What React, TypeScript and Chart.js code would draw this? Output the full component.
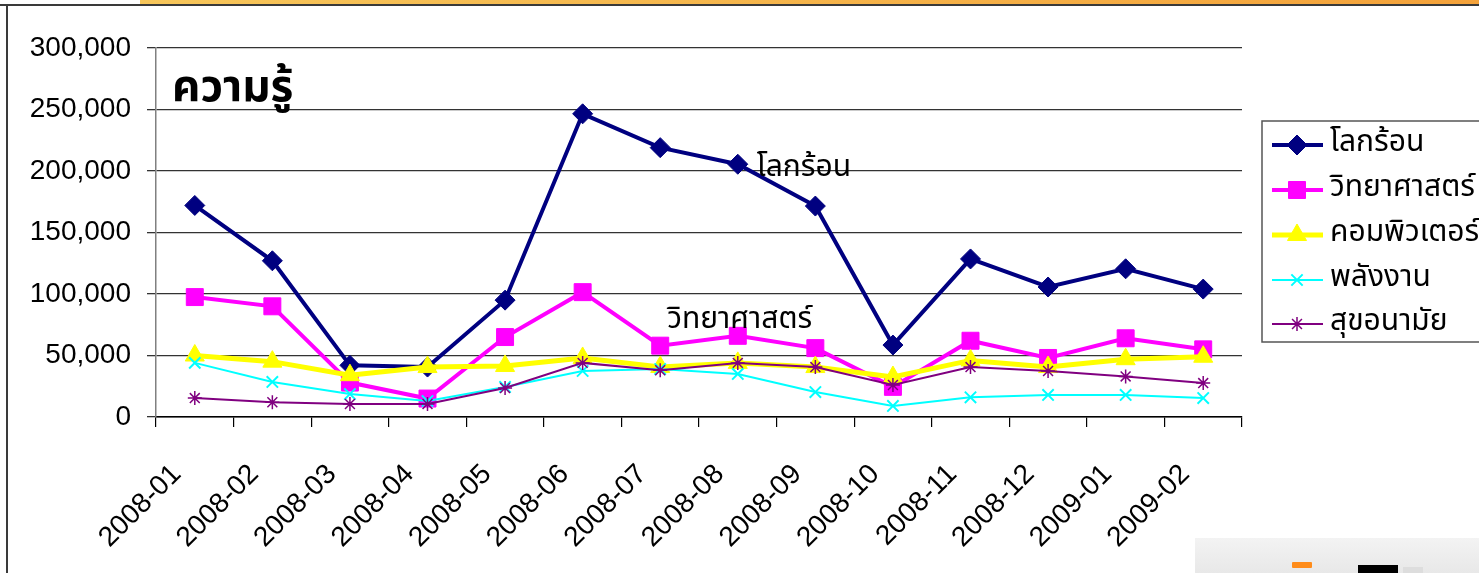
import React, { useEffect, useRef } from "react";
import { Chart, registerables } from "chart.js";
import { drawPoint } from "chart.js/helpers";

Chart.register(...registerables);

// ---------- data ----------
const months = [
  "2008-01", "2008-02", "2008-03", "2008-04", "2008-05", "2008-06", "2008-07",
  "2008-08", "2008-09", "2008-10", "2008-11", "2008-12", "2009-01", "2009-02",
];
const seriesNames = ["โลกร้อน", "วิทยาศาสตร์", "คอมพิวเตอร์", "พลังงาน", "สุขอนามัย"];
const globalWarming = [172000, 127000, 42000, 40600, 95000, 246500, 219000, 205500, 171500, 58500, 128500, 105700, 120500, 104000];
const science = [97500, 90000, 28000, 15000, 65000, 101500, 58000, 66000, 56000, 24500, 62000, 48000, 64000, 55000];
const computer = [50000, 45000, 34000, 40600, 41500, 48000, 40600, 44000, 40600, 32500, 46000, 40600, 47000, 49000];
const energy = [44000, 28500, 18700, 13000, 24400, 37400, 39000, 35000, 20300, 9000, 16000, 17900, 17900, 15400];
const health = [15400, 12000, 10600, 10600, 23600, 44000, 38000, 44000, 40600, 26000, 40600, 37400, 33000, 27600];
const chartTitle = "ความรู้";
const yMin = 0;
const yMax = 300000;
const yStep = 50000;

const NUM_FONT = "'Liberation Sans', Arial, sans-serif";
const THAI_FONT = "'Noto Sans Thai', 'Noto Sans', 'DejaVu Sans', sans-serif";

const overlayPlugin = {
  id: "overlay",
  afterDatasetsDraw(chart: any) {
    const ctx = chart.ctx;
    const xs = chart.scales.x;
    const ys = chart.scales.y;
    const area = chart.chartArea;
    ctx.save();
    ctx.fillStyle = "#000";
    ctx.textBaseline = "alphabetic";
    ctx.textAlign = "left";
    // title
    ctx.font = `bold 44px ${THAI_FONT}`;
    ctx.fillText(chartTitle, area.left + 16, area.top + 53);
    // series labels
    ctx.font = `30px ${THAI_FONT}`;
    ctx.fillText(seriesNames[0], xs.getPixelForValue(7) + 19, ys.getPixelForValue(globalWarming[7]) + 12);
    ctx.fillText(seriesNames[1], xs.getPixelForValue(6) + 7, ys.getPixelForValue(science[6]) - 18);

    // legend box
    const lx = 1262, ly = 121, lw = 260, lh = 221;
    ctx.strokeStyle = "#555";
    ctx.lineWidth = 1.5;
    ctx.strokeRect(lx, ly, lw, lh);
    const rowY = [145, 190, 235, 280, 324];
    chart.data.datasets.forEach((ds: any, i: number) => {
      const y = rowY[i];
      ctx.strokeStyle = ds.borderColor;
      ctx.lineWidth = ds.borderWidth;
      ctx.beginPath();
      ctx.moveTo(lx + 10, y);
      ctx.lineTo(lx + 61, y);
      ctx.stroke();
      ctx.fillStyle = ds.pointBackgroundColor;
      ctx.strokeStyle = ds.pointBorderColor;
      ctx.lineWidth = ds.pointBorderWidth;
      drawPoint(ctx, { pointStyle: ds.pointStyle, radius: ds.pointRadius, rotation: 0, borderWidth: ds.pointBorderWidth }, lx + 35, y);
      ctx.fillStyle = "#000";
      ctx.font = `30px ${THAI_FONT}`;
      ctx.textBaseline = "middle";
      ctx.fillText(ds.label, lx + 68, y);
    });
    ctx.restore();
  },
};

export default function App() {
  const canvasRef = useRef<HTMLCanvasElement | null>(null);

  useEffect(() => {
    const canvas = canvasRef.current;
    if (!canvas) return;
    const mk = (label: string, data: number[], color: string, width: number, style: string, radius: number, order: number, pbw = 1) => ({
      label,
      data,
      borderColor: color,
      backgroundColor: color,
      borderWidth: width,
      pointStyle: style,
      pointRadius: radius,
      pointHoverRadius: radius,
      pointBackgroundColor: color,
      pointBorderColor: color,
      pointBorderWidth: pbw,
      tension: 0,
      order,
    });
    const chart = new Chart(canvas, {
      type: "line",
      data: {
        labels: months,
        datasets: [
          mk(seriesNames[0], globalWarming, "#000080", 4, "rectRot", 10, 5),
          mk(seriesNames[1], science, "#FF00FF", 4, "rect", 12, 4),
          mk(seriesNames[2], computer, "#FFFF00", 5, "triangle", 11, 3),
          mk(seriesNames[3], energy, "#00FFFF", 2, "crossRot", 8, 2, 2),
          mk(seriesNames[4], health, "#800080", 2, "star", 7, 1, 1.5),
        ],
      },
      options: {
        animation: false,
        responsive: true,
        maintainAspectRatio: false,
        layout: { padding: { top: 48, right: 237, left: 0, bottom: 0 } },
        plugins: {
          legend: { display: false },
          tooltip: { enabled: false },
          title: { display: false },
        },
        scales: {
          x: {
            offset: true,
            afterFit: (s: any) => { s.height = 156; },
            grid: { drawOnChartArea: false, drawTicks: true, tickLength: 10, offset: true, color: "#000", lineWidth: 1.2 },
            border: { color: "#000", width: 1.5 },
            ticks: {
              maxRotation: 45,
              minRotation: 45,
              autoSkip: false,
              color: "#000",
              padding: 31,
              labelOffset: -18,
              font: { family: NUM_FONT, size: 28 },
            },
          },
          y: {
            min: yMin,
            max: yMax,
            afterFit: (s: any) => { s.width = 156; },
            grid: { color: "#333", lineWidth: 1.3, tickLength: 9 },
            border: { color: "#808080", width: 1.5 },
            ticks: {
              stepSize: yStep,
              color: "#000",
              padding: 16,
              font: { family: NUM_FONT, size: 28 },
              callback: (v: any) => Number(v).toLocaleString("en-US"),
            },
          },
        },
      },
      plugins: [overlayPlugin],
    } as any);
    return () => chart.destroy();
  }, []);

  return (
    <div style={{ position: "absolute", left: 0, top: 0, width: 1479, height: 573, background: "#fff", overflow: "hidden" }}>
      <div style={{ position: "absolute", left: 140, top: 0, width: 1339, height: 4, background: "linear-gradient(to right, #f7c65a, #f4a23a)" }} />
      <div style={{ position: "absolute", left: 0, top: 4, width: 1479, height: 2, background: "#3a3a3a" }} />
      <div style={{ position: "absolute", left: 6, top: 4, width: 2, height: 569, background: "#3a3a3a" }} />
      <div style={{ position: "absolute", left: 1195, top: 538, width: 284, height: 35, background: "linear-gradient(#f3f3f3, #e8e8e8)" }}>
        <div style={{ position: "absolute", left: 97, top: 24, width: 20, height: 6, background: "#ff8c1a", borderRadius: 1 }} />
        <div style={{ position: "absolute", left: 163, top: 27, width: 40, height: 8, background: "#000" }} />
        <div style={{ position: "absolute", left: 208, top: 29, width: 20, height: 6, background: "#ddd" }} />
      </div>
      <div style={{ position: "absolute", left: 0, top: 0, width: 1479, height: 573 }}>
        <canvas ref={canvasRef} />
      </div>
    </div>
  );
}
